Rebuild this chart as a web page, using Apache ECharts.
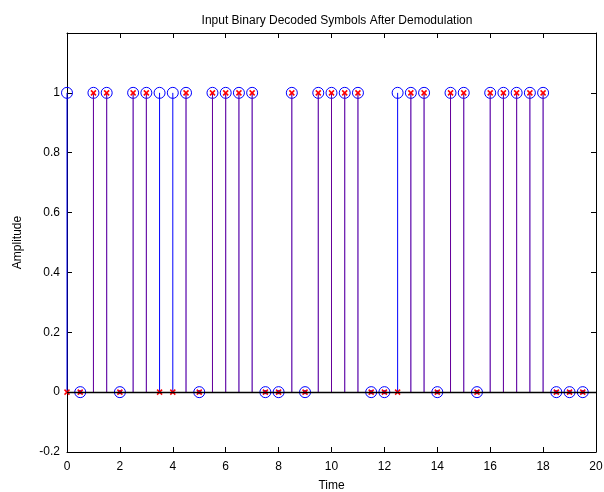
<!DOCTYPE html>
<html>
<head>
<meta charset="utf-8">
<script src="https://cdn.jsdelivr.net/npm/echarts@6/dist/echarts.min.js"></script>
<style>
  html, body { margin: 0; padding: 0; background: #fff; }
  #chart { width: 604px; height: 492px; }
</style>
</head>
<body>
<div id="chart"></div>
<script>
// sample times (s)
const times = [0, 0.5, 1, 1.5, 2, 2.5, 3, 3.5, 4, 4.5, 5, 5.5, 6, 6.5, 7, 7.5, 8, 8.5, 9, 9.5,
  10, 10.5, 11, 11.5, 12, 12.5, 13, 13.5, 14, 14.5, 15, 15.5, 16, 16.5, 17, 17.5, 18, 18.5, 19, 19.5];
// input binary symbols (blue circles)
const inputBits = [1, 0, 1, 1, 0, 1, 1, 1, 1, 1, 0, 1, 1, 1, 1, 0, 0, 1, 0, 1,
  1, 1, 1, 0, 0, 1, 1, 1, 0, 1, 1, 0, 1, 1, 1, 1, 1, 0, 0, 0];
// decoded symbols after demodulation (red crosses)
const decodedBits = [0, 0, 1, 1, 0, 1, 1, 0, 0, 1, 0, 1, 1, 1, 1, 0, 0, 1, 0, 1,
  1, 1, 1, 0, 0, 0, 1, 1, 0, 1, 1, 0, 1, 1, 1, 1, 1, 0, 0, 0];

const BLUE = '#0000ff';
const RED = '#ff0000';
const FONT = 'Liberation Sans, Arial, sans-serif';

const inputData = times.map((t, i) => [t, inputBits[i]]);
const decodedData = times.map((t, i) => [t, decodedBits[i]]);

const el = document.getElementById('chart');
const chart = echarts.init(el, null, { renderer: 'canvas' });

// stem with open circle
function renderCircleStem(params, api) {
  const x = api.value(0), y = api.value(1);
  const base = api.coord([x, 0]);
  const top = api.coord([x, y]);
  const kids = [
    { type: 'line', shape: { x1: base[0], y1: base[1], x2: top[0], y2: top[1] },
      style: { stroke: BLUE, lineWidth: 1 } },
    { type: 'circle', shape: { cx: top[0], cy: top[1], r: 5.5 },
      style: { fill: 'none', stroke: BLUE, lineWidth: 1 } }
  ];
  if (y === 0) {
    kids.push({ type: 'rect', shape: { x: top[0] - 2, y: top[1] - 2, width: 4, height: 4 },
      style: { fill: BLUE } });
  }
  return { type: 'group', children: kids };
}

// stem with x marker
function renderCrossStem(params, api) {
  const x = api.value(0), y = api.value(1);
  const base = api.coord([x, 0]);
  const top = api.coord([x, y]);
  const s = 2.5;
  return {
    type: 'group',
    children: [
      { type: 'line', shape: { x1: base[0], y1: base[1], x2: top[0], y2: top[1] },
        style: { stroke: RED, lineWidth: 1, opacity: 0.4 } },
      { type: 'line', shape: { x1: top[0] - s, y1: top[1] - s, x2: top[0] + s, y2: top[1] + s },
        style: { stroke: RED, lineWidth: 1.5 } },
      { type: 'line', shape: { x1: top[0] - s, y1: top[1] + s, x2: top[0] + s, y2: top[1] - s },
        style: { stroke: RED, lineWidth: 1.5 } }
    ]
  };
}

const axisCommon = {
  axisLine: { show: true, onZero: false, lineStyle: { color: '#000', width: 1 } },
  axisTick: { show: true, inside: true, length: 5, lineStyle: { color: '#000' } },
  splitLine: { show: false }
};

chart.setOption({
  backgroundColor: '#fff',
  animation: false,
  title: {
    text: 'Input Binary Decoded Symbols After Demodulation',
    left: 332, top: 10, textAlign: 'center',
    textStyle: { fontFamily: FONT, fontSize: 12, fontWeight: 'normal', color: '#000' }
  },
  grid: { left: 67, right: 8, top: 33, bottom: 40, containLabel: false, outerBoundsMode: 'none' },
  xAxis: [
    Object.assign({
      type: 'value', min: 0, max: 20, interval: 2, position: 'bottom',
      name: 'Time', nameLocation: 'middle', nameGap: 28,
      nameTextStyle: { fontFamily: FONT, fontSize: 12, color: '#000' },
      axisLabel: { fontFamily: FONT, fontSize: 12, color: '#000', margin: 9 }
    }, axisCommon),
    Object.assign({
      type: 'value', min: 0, max: 20, interval: 2, position: 'top',
      axisLabel: { show: false }
    }, axisCommon)
  ],
  yAxis: [
    Object.assign({
      type: 'value', min: -0.2, max: 1.2, interval: 0.2, position: 'left',
      name: 'Amplitude', nameLocation: 'middle', nameGap: 43,
      nameTextStyle: { fontFamily: FONT, fontSize: 12, color: '#000' },
      axisLabel: {
        fontFamily: FONT, fontSize: 12, color: '#000', margin: 7,
        formatter: v => (v > 1.1 ? '' : String(+v.toFixed(1)))
      }
    }, axisCommon),
    Object.assign({
      type: 'value', min: -0.2, max: 1.2, interval: 0.2, position: 'right',
      axisLabel: { show: false }
    }, axisCommon)
  ],
  series: [
    {
      name: 'input', type: 'custom', xAxisIndex: 0, yAxisIndex: 0,
      data: inputData, renderItem: renderCircleStem, silent: true, clip: false,
      markLine: {
        silent: true, symbol: 'none', label: { show: false },
        lineStyle: { color: '#000', width: 1.3, type: 'solid' },
        data: [{ yAxis: 0 }]
      }
    },
    {
      name: 'decoded', type: 'custom', xAxisIndex: 0, yAxisIndex: 0,
      data: decodedData, renderItem: renderCrossStem, silent: true, clip: false
    }
  ]
});
</script>
</body>
</html>
